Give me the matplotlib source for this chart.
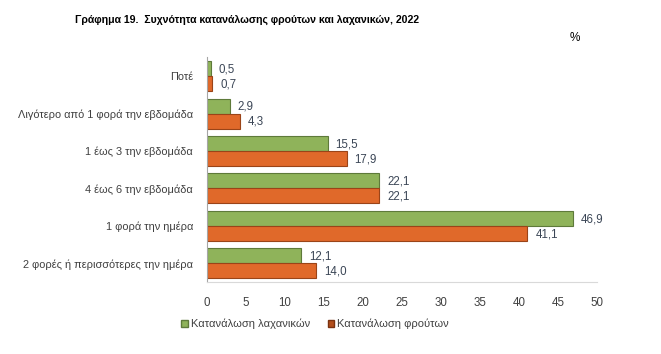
import matplotlib
matplotlib.use("Agg")
import matplotlib.pyplot as plt
import numpy as np
from matplotlib.patches import Patch

categories = ["Ποτέ", "Λιγότερο από 1 φορά την εβδομάδα", "1 έως 3 την εβδομάδα",
              "4 έως 6 την εβδομάδα", "1 φορά την ημέρα", "2 φορές ή περισσότερες την ημέρα"]
vegetables = [0.5, 2.9, 15.5, 22.1, 46.9, 12.1]
fruits = [0.7, 4.3, 17.9, 22.1, 41.1, 14.0]
xticks = [0, 5, 10, 15, 20, 25, 30, 35, 40, 45, 50]

plt.rcParams['font.family'] = ['Liberation Sans', 'DejaVu Sans']

fig = plt.figure(figsize=(6.61, 3.54), dpi=100)
ax = fig.add_axes([0.313, 0.203, 0.590, 0.635])

y = np.arange(len(categories))
h = 0.40
green = "#8fb35a"
orange = "#e0692a"
lab_col = "#3b4656"
b1 = ax.barh(y - h/2, vegetables, height=h, color=green, edgecolor="#5e7a3a", linewidth=0.8)
b2 = ax.barh(y + h/2, fruits, height=h, color=orange, edgecolor="#9a4418", linewidth=0.8)

for rect, v in zip(b1, vegetables):
    ax.text(v + 1.0, rect.get_y() + rect.get_height()/2 + 0.02, f"{v:.1f}".replace('.', ','),
            va="center", ha="left", fontsize=8.3, color=lab_col)
for rect, v in zip(b2, fruits):
    ax.text(v + 1.0, rect.get_y() + rect.get_height()/2 + 0.02, f"{v:.1f}".replace('.', ','),
            va="center", ha="left", fontsize=8.3, color=lab_col)

ax.set_ylim(len(categories) - 0.5, -0.5)
ax.set_xlim(0, 50)
ax.set_yticks(y)
ax.set_yticklabels(categories, fontsize=7.9, color="#404040")
ax.set_xticks(xticks)
ax.set_xticklabels([str(t) for t in xticks], fontsize=8.3, color="#404040")
ax.tick_params(axis='both', length=0)
ax.tick_params(axis='x', pad=11)
ax.tick_params(axis='y', pad=10)
for s in ["top", "right"]:
    ax.spines[s].set_visible(False)
ax.spines["bottom"].set_color("#d9d9d9")
ax.spines["left"].set_color("#a6a6a6")

fig.text(0.374, 0.945, "Γράφημα 19.  Συχνότητα κατανάλωσης φρούτων και λαχανικών, 2022",
         ha="center", va="center", fontsize=7.6, fontweight="bold", color="#000000")
fig.text(0.870, 0.892, "%", ha="center", va="center", fontsize=8.5, color="#000000")

handles = [Patch(facecolor=green, edgecolor="#5e7a3a", label="Κατανάλωση λαχανικών"),
           Patch(facecolor="#b34e1c", edgecolor="#7a3210", label="Κατανάλωση φρούτων")]
fig.legend(handles=handles, loc="center left", bbox_to_anchor=(0.259, 0.085), ncol=2,
           frameon=False, fontsize=8, handlelength=0.6, handleheight=0.6,
           handletextpad=0.25, columnspacing=1.6, labelcolor="#404040")

fig.savefig("out.png", dpi=100)
